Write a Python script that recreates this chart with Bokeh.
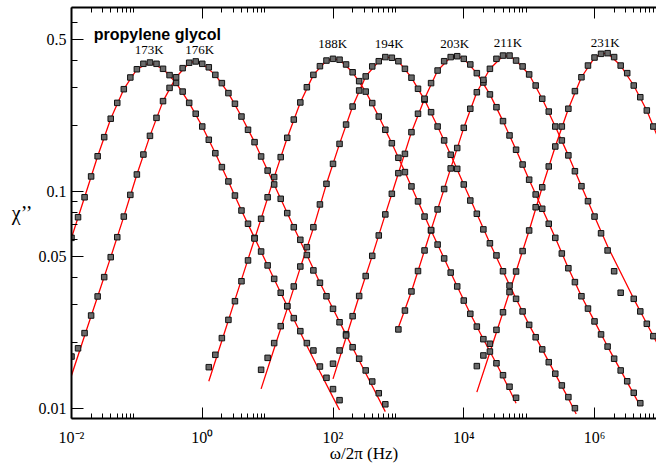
import numpy as np
from bokeh.plotting import figure
from bokeh.models import Range1d, FixedTicker, LogAxis, Label, ColumnDataSource
from bokeh.core.properties import value
from bokeh.embed import file_html
from bokeh.resources import INLINE

# ---------------- data (log10 of frequency in Hz, log10 of chi'') ----------------
temps = ["173K", "176K", "188K", "194K", "203K", "211K", "231K"]

logf_173K = [-2.0,-1.9,-1.8,-1.7,-1.6,-1.5,-1.4,-1.3,-1.2,-1.1,-1.0,-0.9,-0.8,-0.7,-0.6,-0.5,-0.4,-0.3,-0.2,-0.1,
             0.0,0.1,0.2,0.3,0.4,0.5,0.6,0.7,0.8,0.9,1.0,1.1,1.2,1.3,1.4,1.5,1.6,1.7,1.8,1.9,2.0,2.1]
logchi_173K = [-1.215,-1.120,-1.028,-0.932,-0.839,-0.751,-0.666,-0.593,-0.530,-0.476,
               -0.438,-0.413,-0.407,-0.413,-0.436,-0.465,-0.501,-0.541,-0.593,-0.643,
               -0.702,-0.763,-0.825,-0.889,-0.955,-1.020,-1.089,-1.150,-1.215,-1.278,
               -1.342,-1.404,-1.468,-1.530,-1.585,-1.645,-1.700,-1.734,-1.808,-1.860,
               -1.912,-1.963]

logf_176K = [-2.0,-1.9,-1.8,-1.7,-1.6,-1.5,-1.4,-1.3,-1.2,-1.1,-1.0,-0.9,-0.8,-0.7,-0.6,-0.5,-0.4,-0.3,-0.2,-0.1,
             0.0,0.1,0.2,0.3,0.4,0.5,0.6,0.7,0.8,0.9,1.0,1.1,1.2,1.3,1.4,1.5,1.6,1.7,1.8,1.9,
             2.0,2.1,2.2,2.3,2.4,2.5,2.6,2.7,2.8]
logchi_176K = [-1.762,-1.724,-1.654,-1.573,-1.485,-1.396,-1.304,-1.212,-1.117,-1.017,
               -0.923,-0.831,-0.745,-0.662,-0.585,-0.524,-0.475,-0.433,-0.408,-0.402,
               -0.413,-0.429,-0.464,-0.502,-0.548,-0.597,-0.656,-0.717,-0.774,-0.840,
               -0.905,-0.969,-1.035,-1.101,-1.166,-1.224,-1.294,-1.365,-1.422,-1.484,
               -1.542,-1.604,-1.659,-1.719,-1.772,-1.826,-1.877,-1.931,-1.982]

logf_188K = [0.1,0.2,0.3,0.4,0.5,0.6,0.7,0.8,0.9,1.0,1.1,1.2,1.3,1.4,1.5,1.6,1.7,1.8,1.9,2.0,
             2.1,2.2,2.3,2.4,2.5,2.6,2.7,2.8,2.9,3.0,3.1,3.2,3.3,3.4,3.5,3.6,3.7,3.8,3.9,4.0,
             4.1,4.2,4.3,4.4,4.5,4.6,4.7,4.8]
logchi_188K = [-1.811,-1.754,-1.677,-1.593,-1.507,-1.415,-1.319,-1.218,-1.127,-1.028,
               -0.935,-0.843,-0.754,-0.670,-0.591,-0.521,-0.464,-0.424,-0.398,-0.390,
               -0.394,-0.416,-0.452,-0.493,-0.541,-0.594,-0.656,-0.717,-0.779,-0.846,
               -0.912,-0.978,-1.047,-1.117,-1.181,-1.246,-1.310,-1.375,-1.439,-1.504,
               -1.565,-1.624,-1.682,-1.739,-1.793,-1.848,-1.901,-1.952]

logf_194K = [0.9,1.0,1.1,1.2,1.3,1.4,1.5,1.6,1.7,1.8,1.9,2.0,2.1,2.2,2.3,2.4,2.5,2.6,2.7,2.8,
             2.9,3.0,3.1,3.2,3.3,3.4,3.5,3.6,3.7,3.8,3.9,4.0,4.1,4.2,4.3,4.4,4.5,4.6,4.7,4.8,
             4.9,5.0,5.1,5.2,5.3,5.4,5.5,5.6,5.7]
logchi_194K = [-1.823,-1.768,-1.700,-1.622,-1.530,-1.439,-1.347,-1.258,-1.166,-1.061,
               -0.966,-0.874,-0.782,-0.693,-0.610,-0.536,-0.471,-0.425,-0.401,-0.382,
               -0.385,-0.401,-0.436,-0.477,-0.528,-0.579,-0.636,-0.702,-0.766,-0.832,
               -0.897,-0.969,-1.043,-1.104,-1.176,-1.240,-1.296,-1.369,-1.435,-1.496,
               -1.554,-1.616,-1.673,-1.729,-1.788,-1.841,-1.895,-1.949,-2.000]

logf_203K = [2.0,2.1,2.2,2.3,2.4,2.5,2.6,2.7,2.8,2.9,3.0,3.1,3.2,3.3,3.4,3.5,3.6,3.7,3.8,3.9,
             4.0,4.1,4.2,4.3,4.4,4.5,4.6,4.7,4.8,4.9,5.0,5.1,5.2,5.3,5.4,5.5,5.6,5.7,5.8,5.9,
             6.0,6.1,6.2,6.3,6.4,6.5,6.6,6.7]
logchi_203K = [-1.795,-1.734,-1.665,-1.576,-1.483,-1.391,-1.298,-1.204,-1.107,-1.012,
               -0.917,-0.828,-0.728,-0.643,-0.574,-0.502,-0.444,-0.401,-0.382,-0.378,
               -0.390,-0.416,-0.456,-0.499,-0.554,-0.613,-0.677,-0.743,-0.809,-0.877,
               -0.947,-1.015,-1.081,-1.150,-1.215,-1.287,-1.355,-1.419,-1.484,-1.541,
               -1.600,-1.660,-1.716,-1.772,-1.826,-1.876,-1.929,-1.977]

logf_211K = [3.0,3.1,3.2,3.3,3.4,3.5,3.6,3.7,3.8,3.9,4.0,4.1,4.2,4.3,4.4,4.5,4.6,4.7,4.8,4.9,
             5.0,5.1,5.2,5.3,5.4,5.5,5.6,5.7,5.8,5.9,6.0,6.1,6.2,6.3,6.4,6.6,6.7,6.8,6.9]
logchi_211K = [-1.637,-1.550,-1.462,-1.368,-1.273,-1.179,-1.084,-0.990,-0.895,-0.801,
               -0.708,-0.620,-0.544,-0.487,-0.436,-0.390,-0.375,-0.375,-0.398,-0.425,
               -0.462,-0.513,-0.574,-0.633,-0.702,-0.766,-0.835,-0.908,-0.977,-1.046,
               -1.117,-1.194,-1.273,-1.369,-1.468,-1.496,-1.554,-1.611,-1.668]

logf_231K = [4.2,4.3,4.4,4.5,4.6,4.7,4.8,4.9,5.0,5.1,5.2,5.3,5.4,5.5,5.6,5.7,5.8,5.9,6.0,6.1,
             6.2,6.3,6.4,6.5,6.6,6.7,6.8,6.9]
logchi_231K = [-1.806,-1.757,-1.703,-1.639,-1.558,-1.465,-1.370,-1.276,-1.181,-1.074,
               -0.982,-0.886,-0.794,-0.702,-0.620,-0.539,-0.475,-0.421,-0.384,-0.367,
               -0.364,-0.382,-0.421,-0.456,-0.513,-0.567,-0.628,-0.702]

# fitted curves (red lines)
fit_logf_173K = [-2.0,-1.8,-1.6,-1.4,-1.2,-1.0,-0.8,-0.6,-0.4,-0.2,0.0,0.2,0.4,0.6,0.8,1.0,1.2,1.4,1.6,1.8,2.0,2.1]
fit_logchi_173K = [-1.215,-1.028,-0.839,-0.666,-0.530,-0.438,-0.407,-0.436,-0.501,-0.593,-0.702,
                   -0.825,-0.955,-1.089,-1.215,-1.342,-1.468,-1.590,-1.712,-1.832,-1.950,-2.008]

fit_logf_176K = [-2.0,-1.8,-1.6,-1.4,-1.2,-1.0,-0.8,-0.6,-0.4,-0.2,-0.1,0.0,0.2,0.4,0.6,0.8,1.0,1.2,1.4,1.6,
                 1.8,2.0,2.2,2.4,2.6,2.8]
fit_logchi_176K = [-1.849,-1.666,-1.485,-1.304,-1.117,-0.923,-0.745,-0.585,-0.475,-0.408,-0.402,-0.413,
                   -0.464,-0.548,-0.656,-0.774,-0.905,-1.035,-1.166,-1.294,-1.422,-1.542,-1.662,-1.780,
                   -1.898,-2.016]

fit_logf_188K = [0.1,0.3,0.5,0.7,0.9,1.1,1.3,1.5,1.7,1.9,2.0,2.1,2.3,2.5,2.7,2.9,3.1,3.3,3.5,3.7,
                 3.9,4.1,4.3,4.5,4.7,4.8]
fit_logchi_188K = [-1.876,-1.689,-1.501,-1.314,-1.127,-0.935,-0.754,-0.591,-0.464,-0.398,-0.390,-0.394,
                   -0.452,-0.541,-0.656,-0.779,-0.912,-1.047,-1.181,-1.310,-1.439,-1.565,-1.682,-1.795,
                   -1.915,-1.977]

fit_logf_194K = [0.9,1.1,1.3,1.5,1.7,1.9,2.1,2.3,2.5,2.7,2.8,2.9,3.0,3.2,3.4,3.6,3.8,4.0,4.2,4.4,
                 4.6,4.8,5.0,5.2,5.4,5.6,5.72]
fit_logchi_194K = [-1.911,-1.725,-1.541,-1.352,-1.170,-0.966,-0.782,-0.610,-0.471,-0.401,-0.382,-0.385,
                   -0.401,-0.477,-0.579,-0.702,-0.832,-0.969,-1.104,-1.240,-1.369,-1.496,-1.616,-1.729,
                   -1.843,-1.955,-2.027]

fit_logf_203K = [2.0,2.2,2.4,2.6,2.8,3.0,3.2,3.4,3.6,3.8,3.9,4.0,4.2,4.4,4.6,4.8,5.0,5.2,5.4,5.6,
                 5.8,6.0,6.2,6.4,6.6,6.7]
fit_logchi_203K = [-1.865,-1.674,-1.483,-1.298,-1.107,-0.917,-0.728,-0.574,-0.444,-0.382,-0.378,-0.390,
                   -0.456,-0.554,-0.677,-0.809,-0.947,-1.081,-1.215,-1.355,-1.484,-1.600,-1.716,-1.826,
                   -1.935,-1.990]

fit_logf_211K = [3.0,3.2,3.4,3.6,3.8,4.0,4.2,4.4,4.6,4.7,4.8,5.0,5.2,5.4,5.6,5.8,6.0,6.2,6.4,6.6,6.8,7.0]
fit_logchi_211K = [-1.628,-1.462,-1.273,-1.084,-0.895,-0.708,-0.544,-0.436,-0.377,-0.378,-0.398,-0.462,
                   -0.574,-0.702,-0.835,-0.977,-1.117,-1.254,-1.375,-1.496,-1.611,-1.725]

fit_logf_231K = [4.2,4.4,4.6,4.8,5.0,5.2,5.4,5.6,5.8,6.0,6.1,6.2,6.4,6.6,6.8,7.0]
fit_logchi_231K = [-1.926,-1.742,-1.558,-1.370,-1.181,-0.982,-0.794,-0.620,-0.475,-0.384,-0.367,-0.364,
                   -0.421,-0.513,-0.628,-0.775]

# temperature label anchors (log10 f, log10 chi'')
label_logf = [-0.81, -0.04, 1.995, 2.86, 3.86, 4.675, 6.165]
label_logchi = [-0.349, -0.349, -0.321, -0.319, -0.319, -0.315, -0.315]

x_major = [0.01, 1, 100, 10000, 1000000]
x_minor = [m * d for d in [0.01, 1, 100, 10000, 1000000] for m in range(2, 10)]
x_labels = {0.01: "10\u207b\u00b2", 1: "10\u2070", 100: "10\u00b2", 10000: "10\u2074", 1000000: "10\u2076"}
y_major = [0.01, 0.05, 0.1, 0.5]
y_minor = [0.02, 0.03, 0.04, 0.06, 0.07, 0.08, 0.09, 0.2, 0.3, 0.4, 0.6]
y_labels = {0.01: "0.01", 0.05: "0.05", 0.1: "0.1", 0.5: "0.5"}

series = [
    (logf_173K, logchi_173K, fit_logf_173K, fit_logchi_173K),
    (logf_176K, logchi_176K, fit_logf_176K, fit_logchi_176K),
    (logf_188K, logchi_188K, fit_logf_188K, fit_logchi_188K),
    (logf_194K, logchi_194K, fit_logf_194K, fit_logchi_194K),
    (logf_203K, logchi_203K, fit_logf_203K, fit_logchi_203K),
    (logf_211K, logchi_211K, fit_logf_211K, fit_logchi_211K),
    (logf_231K, logchi_231K, fit_logf_231K, fit_logchi_231K),
]
for a, b, c, d in series:
    assert len(a) == len(b), (len(a), len(b))
    assert len(c) == len(d), (len(c), len(d))

SERIF = "Liberation Serif"

p = figure(width=656, height=468, x_axis_type="log", y_axis_type="log",
           x_range=Range1d(0.01, 10 ** 6.948), y_range=Range1d(10 ** -2.0475, 10 ** -0.1535),
           output_backend="svg", toolbar_location=None,
           min_border_left=71, min_border_right=0, min_border_top=7, min_border_bottom=50)
p.background_fill_color = "white"
p.border_fill_color = "white"
p.outline_line_color = None
p.grid.visible = False

for a, b, c, d in series:
    p.line(10 ** np.array(c), 10 ** np.array(d), line_color="#ff0000", line_width=1.3)
for a, b, c, d in series:
    p.scatter(10 ** np.array(a), 10 ** np.array(b), marker="square", size=5.5,
              fill_color="#6a6a6a", line_color="#111111", line_width=1)

src = ColumnDataSource(dict(x=10 ** np.array(label_logf), y=10 ** np.array(label_logchi), t=temps))
p.text(x="x", y="y", text="t", source=src, text_font=value(SERIF), text_font_size="13px",
       text_align="center", text_baseline="middle", text_color="black")

# axes
def style_axis(ax, major_len, minor_len):
    ax.axis_line_width = 2
    ax.axis_line_color = "black"
    ax.major_tick_in = major_len
    ax.major_tick_out = 0
    ax.minor_tick_in = minor_len
    ax.minor_tick_out = 0
    ax.major_tick_line_color = "black"
    ax.minor_tick_line_color = "black"
    ax.major_tick_line_width = 1
    ax.minor_tick_line_width = 1

xa = p.xaxis[0]
xa.ticker = FixedTicker(ticks=x_major, minor_ticks=x_minor)
xa.major_label_overrides = x_labels
style_axis(xa, 11, 5)
xa.major_label_text_font = SERIF
xa.major_label_text_font_size = "16px"
xa.major_label_text_color = "black"
xa.major_label_standoff = 10
xa.axis_label = "\u03c9/2\u03c0 (Hz)"
xa.axis_label_text_font = SERIF
xa.axis_label_text_font_size = "17px"
xa.axis_label_text_font_style = "normal"
xa.axis_label_text_color = "black"
xa.axis_label_standoff = -5

ya = p.yaxis[0]
ya.ticker = FixedTicker(ticks=y_major, minor_ticks=y_minor)
ya.major_label_overrides = y_labels
style_axis(ya, 12, 6)
ya.major_label_text_font = SERIF
ya.major_label_text_font_size = "16px"
ya.major_label_text_color = "black"
ya.major_label_standoff = 5
ya.axis_label = "\u03c7\u2019\u2019"
ya.axis_label_text_font = SERIF
ya.axis_label_text_font_size = "20px"
ya.axis_label_text_font_style = "normal"
ya.axis_label_text_color = "black"
ya.axis_label_standoff = 3
if "axis_label_orientation" in ya.properties():
    ya.axis_label_orientation = "horizontal"

top = LogAxis(ticker=FixedTicker(ticks=x_major, minor_ticks=x_minor))
style_axis(top, 11, 5)
top.major_label_text_font_size = "1px"
top.major_label_text_color = None
top.major_label_standoff = 0
p.add_layout(top, "above")

p.add_layout(Label(x=10 ** -1.659, y=10 ** -0.276, text="propylene glycol",
                   text_font="Liberation Sans", text_font_style="bold", text_font_size="16px",
                   text_color="black", text_baseline="alphabetic", text_align="left"))

open("out.html", "w").write(file_html(p, INLINE))
